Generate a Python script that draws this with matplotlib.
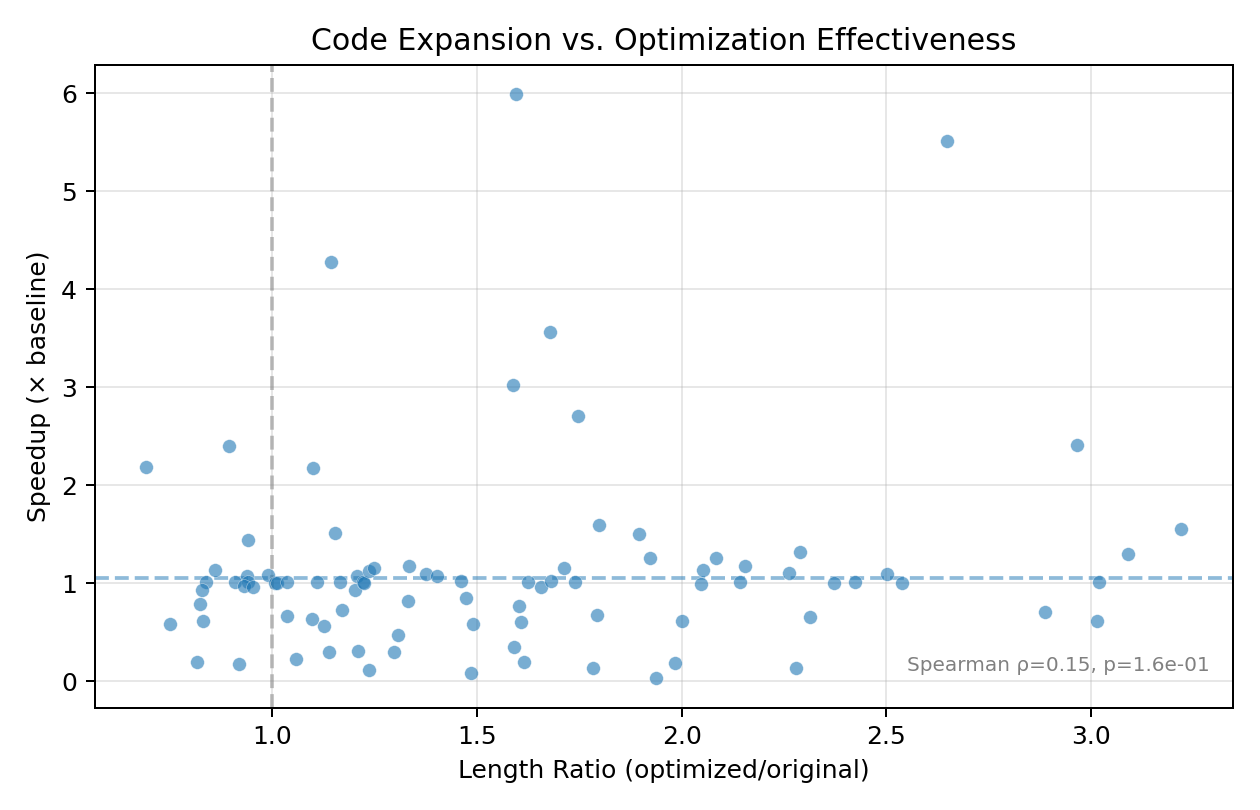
import matplotlib
matplotlib.use("Agg")
import matplotlib.pyplot as plt
import numpy as np

length_ratio = [
    0.692, 0.895, 1.100, 0.941, 1.152, 1.144, 1.595, 1.588, 1.678, 1.747,
    2.648, 2.966, 3.220, 3.090, 2.887, 3.020, 3.015,
    0.861, 0.838, 0.827, 0.824, 0.831, 0.750, 0.815, 0.919, 0.908, 0.938,
    0.941, 0.931, 0.952, 0.990, 1.007, 1.011, 1.037, 1.037, 1.057, 1.109,
    1.097, 1.126, 1.138, 1.166, 1.171, 1.203, 1.206, 1.221, 1.225, 1.236,
    1.249, 1.210, 1.237, 1.296, 1.307, 1.332, 1.334,
    1.375, 1.403, 1.462, 1.474, 1.489, 1.485, 1.602, 1.607, 1.591, 1.614,
    1.624, 1.657, 1.680, 1.712, 1.740, 1.799, 1.794, 1.782, 1.895, 1.922,
    1.937, 1.983, 2.001, 2.047, 2.053, 2.083, 2.142, 2.154, 2.262, 2.288,
    2.280, 2.312, 2.373, 2.422, 2.501, 2.537,
]
speedup = [
    2.19, 2.40, 2.18, 1.44, 1.51, 4.28, 5.99, 3.02, 3.56, 2.71,
    5.51, 2.41, 1.55, 1.30, 0.71, 1.01, 0.61,
    1.14, 1.01, 0.93, 0.79, 0.61, 0.58, 0.20, 0.18, 1.01, 1.07,
    1.01, 0.97, 0.96, 1.08, 1.00, 1.00, 1.01, 0.67, 0.23, 1.01,
    0.64, 0.56, 0.30, 1.01, 0.73, 0.93, 1.07, 1.01, 1.00, 1.12,
    1.16, 0.31, 0.11, 0.30, 0.47, 0.82, 1.18,
    1.09, 1.07, 1.02, 0.85, 0.58, 0.08, 0.77, 0.60, 0.35, 0.20,
    1.01, 0.96, 1.02, 1.16, 1.01, 1.59, 0.68, 0.14, 1.50, 1.26,
    0.03, 0.19, 0.61, 0.99, 1.13, 1.26, 1.01, 1.18, 1.10, 1.32,
    0.14, 0.66, 1.00, 1.01, 1.09, 1.00,
]
median_speedup = 1.05
annotation = "Spearman \u03c1=0.15, p=1.6e-01"

fig, ax = plt.subplots(figsize=(7, 4.5), dpi=180)
ax.scatter(length_ratio, speedup, s=30, color="#1f77b4", alpha=0.6,
           edgecolors="white", linewidths=0.2, zorder=3)
ax.axhline(median_speedup, color="#1f77b4", linestyle="--", alpha=0.5, linewidth=1.5)
ax.axvline(1.0, color="gray", linestyle="--", alpha=0.5, linewidth=1.5)
ax.grid(True, alpha=0.3)
ax.set_xlabel("Length Ratio (optimized/original)")
ax.set_ylabel("Speedup (\u00d7 baseline)")
ax.set_title("Code Expansion vs. Optimization Effectiveness")
ax.text(0.98, 0.05, annotation, transform=ax.transAxes, ha="right", va="bottom",
        fontsize=8, color="gray")
fig.tight_layout()
fig.savefig("out.png")
